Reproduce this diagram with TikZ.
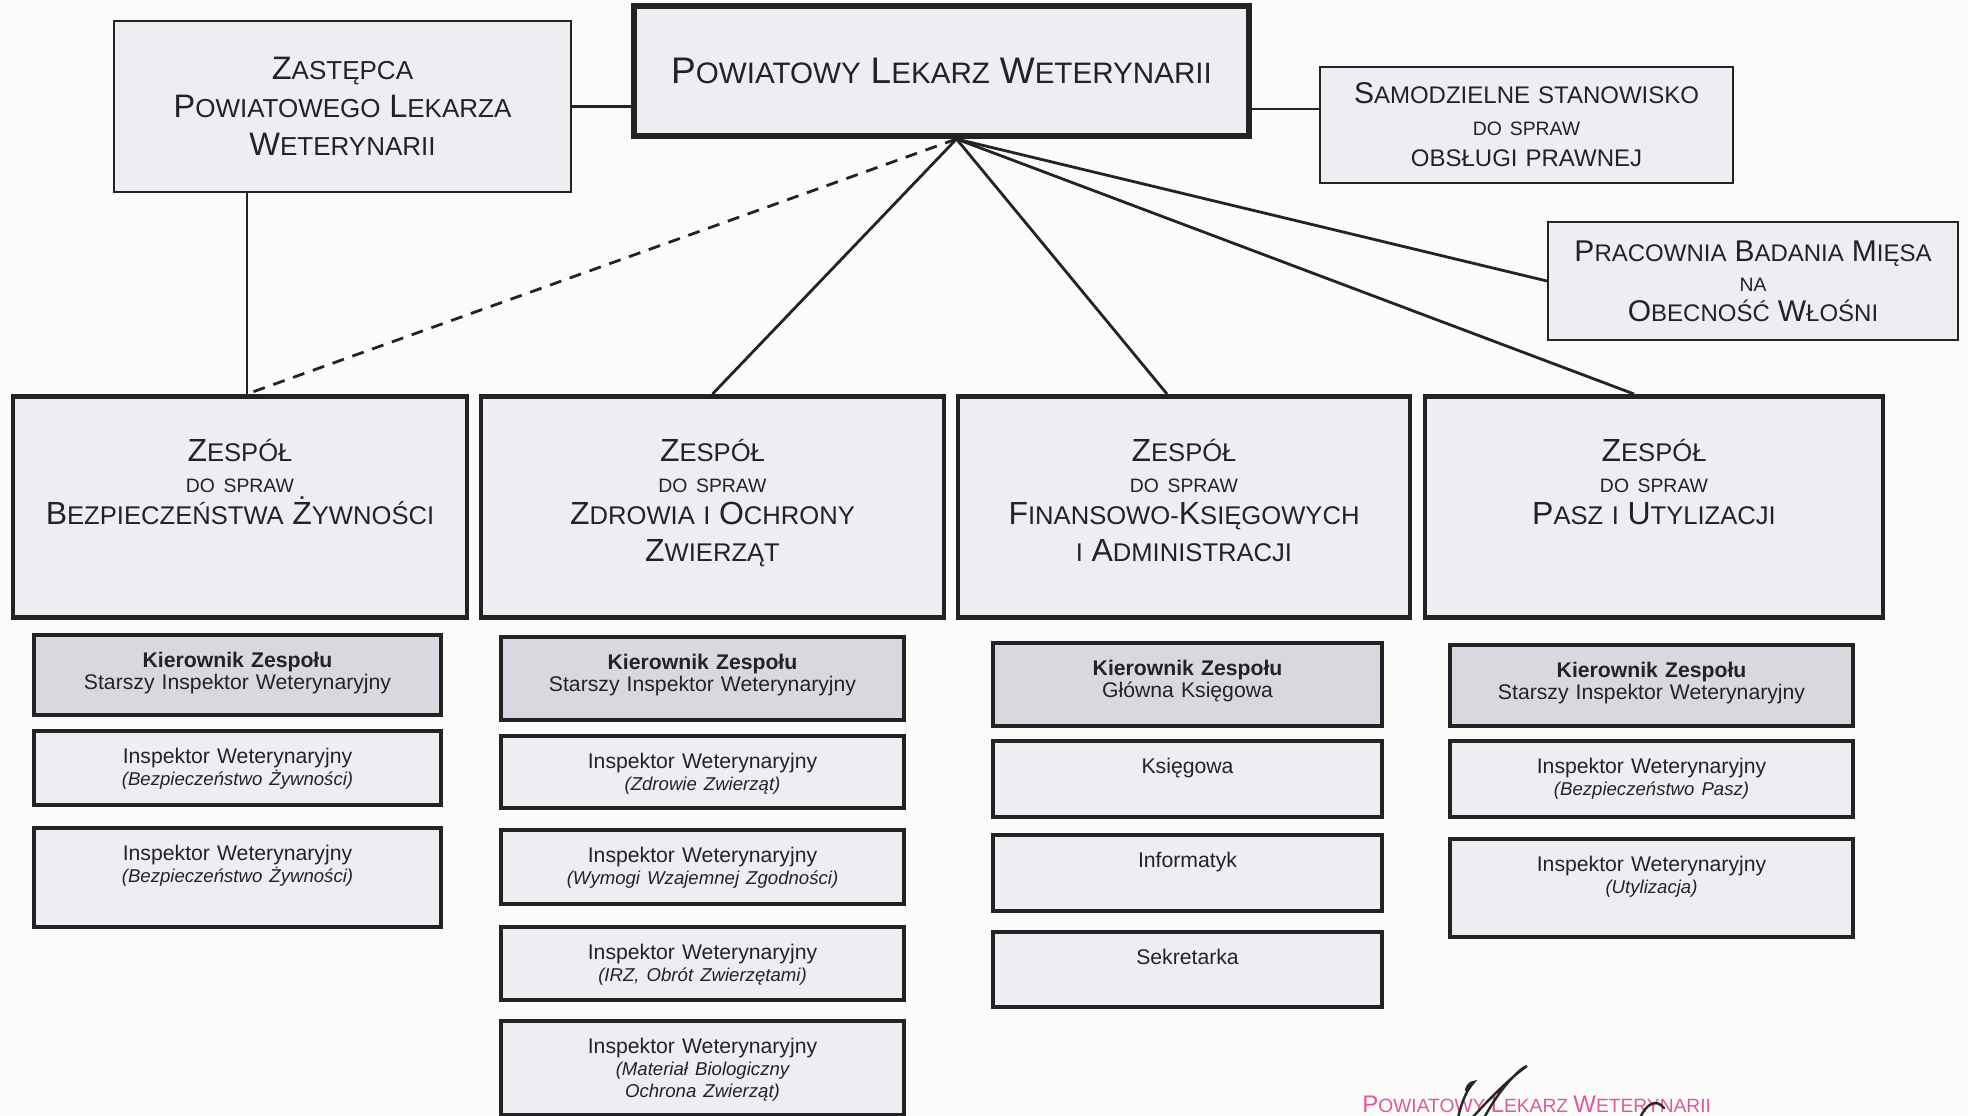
\documentclass[tikz,border=0pt]{standalone}
\usepackage{fontspec}
\setmainfont{Liberation Sans}
\usepackage{graphicx}

\definecolor{paper}{HTML}{FBFBFA}
\definecolor{ink}{HTML}{232326}
\definecolor{boxfill}{HTML}{EDEDF2}
\definecolor{chieffill}{HTML}{D8D8DE}
\definecolor{stamp}{HTML}{E2589C}

\newcommand{\ini}[1]{\scalebox{1.25}{#1}}
\newcommand{\dosp}[1]{{\fontsize{9.7}{11}\selectfont #1}}
\newcommand{\detail}[1]{{\fontsize{9.3}{11}\selectfont\itshape #1}}

\begin{document}
\begin{tikzpicture}
    [x=0.5pt, y=-0.5pt,
     every node/.style={text=ink, align=center, inner sep=0pt},
     plainbox/.style={draw=ink, fill=boxfill, line width=1pt, text width=200pt, font=\fontsize{12}{15.7}\selectfont},
     teambox/.style={draw=ink, fill=boxfill, line width=2.4pt, anchor=north, text width=215pt, text height=32.5pt, text depth=78pt, font=\fontsize{12.8}{18.8}\selectfont},
     subbox/.style 2 args={draw=ink, fill=boxfill, line width=2.2pt, anchor=north, text width=185pt, minimum width=#1, text height=16pt, text depth=#2, font=\fontsize{10.6}{11}\selectfont},
     chiefbox/.style 2 args={subbox={#1}{#2}, fill=chieffill},
     link/.style={draw=ink, line width=1.4pt}]

    \useasboundingbox (0,0) rectangle (1968,1115);
    \clip (0,0) rectangle (1968,1115);
    \fill[paper] (0,0) rectangle (1968,1115);

    \node[plainbox, minimum width=228.5pt, minimum height=85.5pt, text width=215pt, font=\fontsize{13}{19}\selectfont] (zast) at (342.5,106.5)
      {\ini{Z}ASTĘPCA\\ \ini{P}OWIATOWEGO \ini{L}EKARZA\\ \ini{W}ETERYNARII};
    \node[plainbox, line width=3pt, minimum width=307.5pt, minimum height=65pt, text width=300pt, font=\fontsize{14.8}{18}\selectfont] (plw) at (941.5,71)
      {\ini{P}OWIATOWY \ini{L}EKARZ \ini{W}ETERYNARII};
    \node[plainbox, minimum width=206.5pt, minimum height=58pt] (sam) at (1526.5,125)
      {\ini{S}AMODZIELNE STANOWISKO\\ \dosp{DO SPRAW}\\ OBSŁUGI PRAWNEJ};
    \node[plainbox, minimum width=205pt, minimum height=59pt, font=\fontsize{12}{15}\selectfont] (prac) at (1753,281)
      {\ini{P}RACOWNIA \ini{B}ADANIA \ini{M}IĘSA\\ \dosp{NA}\\ \ini{O}BECNOŚĆ \ini{W}ŁOŚNI};

    \node[teambox, minimum width=227pt] (z1) at (240,394)
      {\ini{Z}ESPÓŁ\\[-3.1pt] \dosp{DO SPRAW}\\[-3.1pt] \ini{B}EZPIECZEŃSTWA \ini{Ż}YWNOŚCI};
    \node[teambox, minimum width=231.5pt] (z2) at (712.5,394)
      {\ini{Z}ESPÓŁ\\[-3.1pt] \dosp{DO SPRAW}\\[-3.1pt] \ini{Z}DROWIA I \ini{O}CHRONY\\ \ini{Z}WIERZĄT};
    \node[teambox, minimum width=226pt] (z3) at (1184,394)
      {\ini{Z}ESPÓŁ\\[-3.1pt] \dosp{DO SPRAW}\\[-3.1pt] \ini{F}INANSOWO-\ini{K}SIĘGOWYCH\\ I \ini{A}DMINISTRACJI};
    \node[teambox, minimum width=229pt] (z4) at (1654,394)
      {\ini{Z}ESPÓŁ\\[-3.1pt] \dosp{DO SPRAW}\\[-3.1pt] \ini{P}ASZ I \ini{U}TYLIZACJI};

    \node[chiefbox={203.5pt}{24pt}] (k1) at (237.5,633) {\textbf{Kierownik Zespołu}\\ Starszy Inspektor Weterynaryjny};
    \node[subbox={203.5pt}{21pt}] (i11) at (237.5,729) {Inspektor Weterynaryjny\\ \detail{(Bezpieczeństwo Żywności)}};
    \node[subbox={203.5pt}{33.5pt}] (i12) at (237.5,826) {Inspektor Weterynaryjny\\ \detail{(Bezpieczeństwo Żywności)}};

    \node[chiefbox={201.5pt}{25.5pt}] (k2) at (702.5,635) {\textbf{Kierownik Zespołu}\\ Starszy Inspektor Weterynaryjny};
    \node[subbox={201.5pt}{20pt}] (i21) at (702.5,734) {Inspektor Weterynaryjny\\ \detail{(Zdrowie Zwierząt)}};
    \node[subbox={201.5pt}{21pt}] (i22) at (702.5,828) {Inspektor Weterynaryjny\\ \detail{(Wymogi Wzajemnej Zgodności)}};
    \node[subbox={201.5pt}{20.5pt}] (i23) at (702.5,925) {Inspektor Weterynaryjny\\ \detail{(IRZ, Obrót Zwierzętami)}};
    \node[subbox={201.5pt}{31pt}] (i24) at (702.5,1019) {Inspektor Weterynaryjny\\ \detail{(Materiał Biologiczny\\ Ochrona Zwierząt)}};

    \node[chiefbox={194.5pt}{25.5pt}] (k3) at (1187.5,641) {\textbf{Kierownik Zespołu}\\ Główna Księgowa};
    \node[subbox={194.5pt}{22pt}] (i31) at (1187.5,739) {Księgowa};
    \node[subbox={194.5pt}{22pt}] (i32) at (1187.5,833) {Informatyk};
    \node[subbox={194.5pt}{21.5pt}] (i33) at (1187.5,930) {Sekretarka};

    \node[chiefbox={201.5pt}{24.5pt}] (k4) at (1651.5,643) {\textbf{Kierownik Zespołu}\\ Starszy Inspektor Weterynaryjny};
    \node[subbox={201.5pt}{22pt}] (i41) at (1651.5,739) {Inspektor Weterynaryjny\\ \detail{(Bezpieczeństwo Pasz)}};
    \node[subbox={201.5pt}{33pt}] (i42) at (1651.5,837) {Inspektor Weterynaryjny\\ \detail{(Utylizacja)}};

    \coordinate (apex) at ([xshift=7.5pt]plw.south);
    \coordinate (z1top) at ([xshift=3.5pt]z1.north);
    \draw[link] (zast.east) -- (zast.east -| plw.west);
    \draw[link] ([yshift=-19pt]plw.east) -- ([yshift=-19pt]plw.east -| sam.west);
    \draw[link] (z1top |- zast.south) -- (z1top);
    \draw[link, dash pattern=on 6pt off 4.5pt] (apex) -- (z1top);
    \draw[link] (apex) -- (z2.north);
    \draw[link] (apex) -- ([xshift=-8.5pt]z3.north);
    \draw[link] (apex) -- ([xshift=-10pt]z4.north);
    \draw[link] (apex) -- (prac.west);

    \node[anchor=base west, text=stamp, font=\fontsize{9.6}{10}\selectfont] (seal) at (1362,1112)
      {\ini{P}OWIATOWY \ini{L}EKARZ \ini{W}ETERYNARII};
    \draw[line width=1.2pt, black!85, line cap=round]
      (1458,1118) .. controls (1462,1100) and (1467,1090) .. (1474,1082) .. controls (1470,1082) and (1467,1086) .. (1466,1090)
      (1472,1118) .. controls (1490,1098) and (1510,1078) .. (1527,1066) .. controls (1520,1068) and (1500,1088) .. (1484,1118)
      (1640,1118) .. controls (1646,1104) and (1656,1098) .. (1664,1108);
\end{tikzpicture}
\end{document}
